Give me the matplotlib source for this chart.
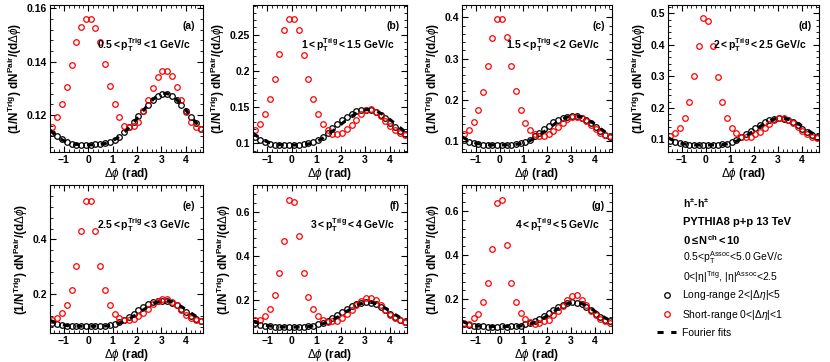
import numpy as np
import matplotlib
matplotlib.use("Agg")
import matplotlib.pyplot as plt
from matplotlib.ticker import MultipleLocator, AutoMinorLocator, FuncFormatter
from matplotlib.lines import Line2D

plt.rcParams['font.family'] = ['Liberation Sans', 'DejaVu Sans']
plt.rcParams['mathtext.fontset'] = 'custom'
plt.rcParams['mathtext.rm'] = 'Liberation Sans'
plt.rcParams['mathtext.bf'] = 'Liberation Sans:bold'
plt.rcParams['mathtext.it'] = 'Liberation Sans:italic'

# delta-phi bin centres (32 bins from -pi/2 to 3pi/2)
dphi = [-1.473, -1.276, -1.080, -0.884, -0.687, -0.491, -0.295, -0.098,
        0.098, 0.295, 0.491, 0.687, 0.884, 1.080, 1.276, 1.473,
        1.669, 1.865, 2.062, 2.258, 2.454, 2.651, 2.847, 3.043,
        3.240, 3.436, 3.633, 3.829, 4.025, 4.222, 4.418, 4.614]

# short range (red) and long range (black) per pT(trig) bin
short_a = [0.1157, 0.1193, 0.1242, 0.1307, 0.1389, 0.1472, 0.1528, 0.1559,
           0.1559, 0.1525, 0.1472, 0.1391, 0.1308, 0.1242, 0.1193, 0.1159,
           0.1155, 0.1159, 0.1174, 0.1214, 0.1258, 0.1303, 0.1343, 0.1366,
           0.1366, 0.1345, 0.1306, 0.1258, 0.1212, 0.1175, 0.1155, 0.1147]
long_a = [0.1134, 0.1122, 0.1109, 0.1099, 0.1093, 0.1089, 0.1088, 0.1088,
          0.1089, 0.1091, 0.1092, 0.1094, 0.1099, 0.1107, 0.1119, 0.1137,
          0.1155, 0.1174, 0.1195, 0.1217, 0.1239, 0.1258, 0.1272, 0.1280,
          0.1280, 0.1272, 0.1258, 0.1239, 0.1216, 0.1194, 0.1171, 0.1149]

short_b = [0.1183, 0.1261, 0.1399, 0.1615, 0.1894, 0.2234, 0.2560, 0.2720,
           0.2720, 0.2560, 0.2225, 0.1890, 0.1615, 0.1399, 0.1261, 0.1179,
           0.1128, 0.1128, 0.1147, 0.1193, 0.1252, 0.1326, 0.1399, 0.1454,
           0.1468, 0.1436, 0.1376, 0.1303, 0.1239, 0.1183, 0.1147, 0.1119]
long_b = [0.1087, 0.1050, 0.1018, 0.0995, 0.0982, 0.0977, 0.0972, 0.0972,
          0.0977, 0.0982, 0.0991, 0.1000, 0.1018, 0.1046, 0.1092, 0.1147,
          0.1206, 0.1266, 0.1317, 0.1367, 0.1408, 0.1440, 0.1459, 0.1463,
          0.1459, 0.1436, 0.1394, 0.1344, 0.1284, 0.1225, 0.1170, 0.1124]

short_c = [0.116, 0.127, 0.146, 0.174, 0.219, 0.281, 0.350, 0.397,
           0.397, 0.353, 0.281, 0.221, 0.175, 0.144, 0.127, 0.116,
           0.112, 0.112, 0.116, 0.124, 0.133, 0.143, 0.152, 0.158,
           0.159, 0.156, 0.148, 0.138, 0.128, 0.120, 0.115, 0.112]
long_c = [0.102, 0.098, 0.094, 0.093, 0.091, 0.091, 0.090, 0.090,
          0.090, 0.090, 0.091, 0.092, 0.094, 0.098, 0.103, 0.111,
          0.120, 0.129, 0.137, 0.145, 0.151, 0.156, 0.159, 0.160,
          0.160, 0.156, 0.151, 0.143, 0.133, 0.123, 0.115, 0.109]

short_d = [0.111, 0.121, 0.137, 0.168, 0.218, 0.300, 0.395, 0.484,
           0.476, 0.397, 0.298, 0.218, 0.168, 0.137, 0.119, 0.108,
           0.106, 0.108, 0.116, 0.124, 0.137, 0.149, 0.161, 0.167,
           0.168, 0.163, 0.153, 0.139, 0.125, 0.116, 0.108, 0.104]
long_d = [0.095, 0.091, 0.087, 0.085, 0.083, 0.083, 0.082, 0.082,
          0.082, 0.082, 0.083, 0.084, 0.086, 0.091, 0.097, 0.106,
          0.116, 0.126, 0.137, 0.147, 0.156, 0.162, 0.166, 0.167,
          0.166, 0.162, 0.155, 0.145, 0.134, 0.123, 0.115, 0.107]

short_e = [0.105, 0.115, 0.132, 0.162, 0.215, 0.305, 0.430, 0.540,
           0.541, 0.430, 0.304, 0.217, 0.162, 0.129, 0.113, 0.107,
           0.105, 0.110, 0.120, 0.132, 0.146, 0.163, 0.176, 0.183,
           0.182, 0.173, 0.159, 0.141, 0.126, 0.115, 0.107, 0.101]
long_e = [0.095, 0.090, 0.088, 0.085, 0.084, 0.083, 0.083, 0.084,
          0.084, 0.083, 0.083, 0.084, 0.087, 0.090, 0.098, 0.107,
          0.117, 0.129, 0.141, 0.152, 0.163, 0.171, 0.176, 0.177,
          0.174, 0.168, 0.159, 0.146, 0.134, 0.122, 0.111, 0.102]

short_f = [0.109, 0.112, 0.128, 0.159, 0.223, 0.321, 0.469, 0.653,
           0.645, 0.490, 0.321, 0.215, 0.162, 0.128, 0.109, 0.103,
           0.105, 0.108, 0.122, 0.140, 0.158, 0.179, 0.198, 0.211,
           0.209, 0.200, 0.177, 0.155, 0.135, 0.120, 0.109, 0.102]
long_f = [0.097, 0.090, 0.085, 0.082, 0.081, 0.079, 0.079, 0.079,
          0.079, 0.079, 0.079, 0.082, 0.085, 0.091, 0.097, 0.106,
          0.118, 0.134, 0.147, 0.161, 0.173, 0.182, 0.189, 0.191,
          0.189, 0.182, 0.170, 0.155, 0.140, 0.125, 0.112, 0.103]

short_g = [0.092, 0.089, 0.115, 0.135, 0.188, 0.274, 0.430, 0.638,
           0.650, 0.448, 0.274, 0.188, 0.138, 0.112, 0.097, 0.089,
           0.092, 0.100, 0.108, 0.127, 0.147, 0.170, 0.195, 0.217,
           0.218, 0.198, 0.173, 0.147, 0.127, 0.111, 0.100, 0.092]
long_g = [0.089, 0.082, 0.077, 0.079, 0.077, 0.074, 0.076, 0.076,
          0.077, 0.076, 0.077, 0.080, 0.080, 0.086, 0.092, 0.102,
          0.112, 0.123, 0.138, 0.153, 0.165, 0.176, 0.183, 0.186,
          0.185, 0.177, 0.165, 0.150, 0.135, 0.120, 0.108, 0.100]

labels = ['(a)', '(b)', '(c)', '(d)', '(e)', '(f)', '(g)']
ptbins = ['0.5', '1', '1.5', '2', '2.5', '3', '4']
ptbins_hi = ['1', '1.5', '2', '2.5', '3', '4', '5']
shorts = [short_a, short_b, short_c, short_d, short_e, short_f, short_g]
longs = [long_a, long_b, long_c, long_d, long_e, long_f, long_g]
ylims = [(0.1062, 0.1612), (0.088, 0.291), (0.073, 0.43), (0.06, 0.526),
         (0.0585, 0.599), (0.052, 0.721), (0.047, 0.718)]
ysteps = [0.02, 0.05, 0.1, 0.1, 0.2, 0.2, 0.2]

W, H = 830, 362
# axes boxes in pixels: left, top, right, bottom
boxes = [(50, 5, 203, 152), (253, 5, 407, 152), (462, 5, 612, 152), (668, 5, 819, 152),
         (50, 185, 203, 333), (253, 185, 407, 333), (462, 185, 612, 333)]

fig = plt.figure(figsize=(W / 100, H / 100), dpi=100)

x = np.array(dphi)
xf = np.linspace(-np.pi / 2, 3 * np.pi / 2, 300)


def fourier_fit(xv, yv, nmax=4):
    A = np.column_stack([np.cos(n * xv) for n in range(nmax + 1)])
    c, *_ = np.linalg.lstsq(A, yv, rcond=None)
    return np.column_stack([np.cos(n * xf) for n in range(nmax + 1)]) @ c


for i in range(7):
    l, t, r, b = boxes[i]
    ax = fig.add_axes([l / W, 1 - b / H, (r - l) / W, (b - t) / H])
    ax.plot(x, longs[i], 'o', mfc='none', mec='black', ms=4, mew=0.9)
    ax.plot(x, shorts[i], 'o', mfc='none', mec='red', ms=4, mew=0.9)
    ax.plot(xf, fourier_fit(x, np.array(longs[i])), color='black', lw=2.2,
            dashes=(2, 2.5))
    ax.set_xlim(-np.pi / 2, 3 * np.pi / 2)
    ax.set_ylim(*ylims[i])
    ax.xaxis.set_major_locator(MultipleLocator(1))
    ax.xaxis.set_minor_locator(MultipleLocator(0.2))
    ax.yaxis.set_major_locator(MultipleLocator(ysteps[i]))
    ax.yaxis.set_minor_locator(AutoMinorLocator(5))
    ax.yaxis.set_major_formatter(FuncFormatter(lambda v, p: '%g' % round(v, 4)))
    ax.tick_params(which='both', direction='in', top=True, right=True,
                   labelsize=7.5, pad=2)
    ax.tick_params(which='major', length=4)
    ax.tick_params(which='minor', length=2)
    for lab in ax.get_xticklabels() + ax.get_yticklabels():
        lab.set_fontweight('bold')
    ax.set_xlabel(r'$\Delta\phi$ (rad)', fontsize=8.5, fontweight='bold', labelpad=1)
    ax.set_ylabel(r'$\mathbf{(1/N^{Trig})\ dN^{Pair}/(d}\Delta\phi\mathbf{)}$',
                  fontsize=8.5, labelpad=2)
    ax.text(0.95, 0.86, labels[i], transform=ax.transAxes, ha='right', va='center',
            fontsize=7.5, fontweight='bold')
    ax.text(0.92, 0.73,
            r'$\mathbf{%s<p_{T}^{Trig}<%s\ GeV/c}$' % (ptbins[i], ptbins_hi[i]),
            transform=ax.transAxes, ha='right', va='center', fontsize=7.5)

# legend / info block
tx = 683 / W
fig.text(tx, 1 - 203 / H, r'$\mathbf{h^{\pm}}$-$\mathbf{h^{\pm}}$', fontsize=7.5,
         fontweight='bold', va='center')
fig.text(tx, 1 - 222 / H, 'PYTHIA8 p+p 13 TeV', fontsize=8, fontweight='bold', va='center')
fig.text(tx, 1 - 240 / H, r'$\mathbf{0\leq N^{ch}<10}$', fontsize=8, va='center')
fig.text(tx, 1 - 258 / H, r'0.5<$\mathrm{p_{T}^{Assoc}}$<5.0 GeV/c', fontsize=7.5, va='center')
fig.text(tx, 1 - 277 / H, r'0<$\mathrm{|\eta|^{Trig}}$, $\mathrm{|\eta|^{Assoc}}$<2.5',
         fontsize=7.5, va='center')

lax = fig.add_axes([640 / W, 1 - 342 / H, 190 / W, 58 / H])
lax.axis('off')
handles = [Line2D([], [], ls='none', marker='o', mfc='none', mec='black', ms=4, mew=0.9),
           Line2D([], [], ls='none', marker='o', mfc='none', mec='red', ms=4, mew=0.9),
           Line2D([], [], color='black', lw=2.2, dashes=(2, 2.5))]
lax.legend(handles, [r'Long-range 2<|$\Delta\eta$|<5', r'Short-range 0<|$\Delta\eta$|<1',
                     'Fourier fits'],
           loc='upper left', frameon=False, fontsize=7.5, handlelength=1.8,
           handletextpad=0.6, labelspacing=0.55, borderaxespad=0.0,
           bbox_to_anchor=(0.07, 1.0))

fig.savefig('out.png', dpi=100)
